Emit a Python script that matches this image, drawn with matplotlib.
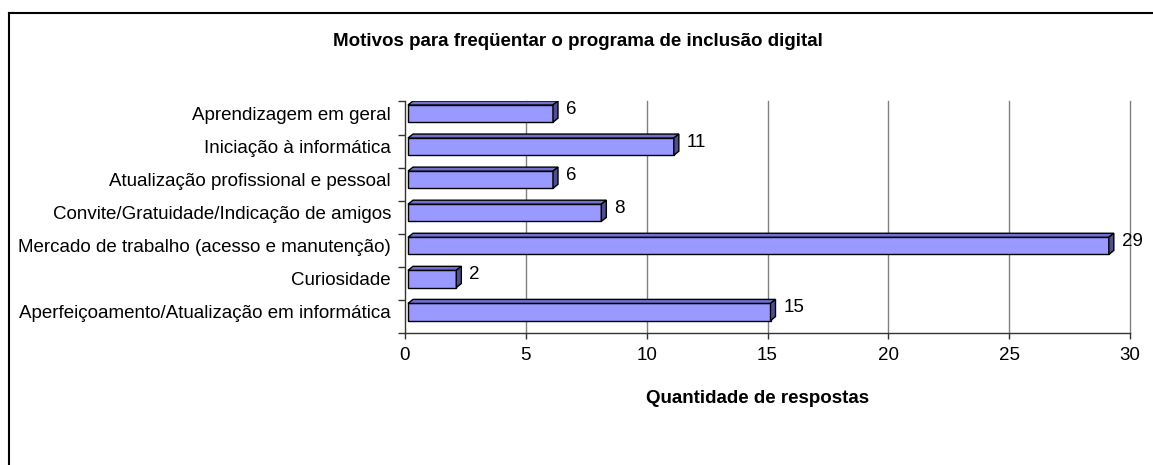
import numpy as np
import matplotlib.pyplot as plt
from matplotlib.patches import Polygon
from matplotlib.lines import Line2D

categories = [
    "Aprendizagem em geral",
    "Iniciação à informática",
    "Atualização profissional e pessoal",
    "Convite/Gratuidade/Indicação de amigos",
    "Mercado de trabalho (acesso e manutenção)",
    "Curiosidade",
    "Aperfeiçoamento/Atualização em informática",
]
counts = [6, 11, 6, 8, 29, 2, 15]
x_ticks = [0, 5, 10, 15, 20, 25, 30]

FRONT = "#9999FF"
TOP = "#7070D0"
SIDE = "#4F4F8F"
W, H, DPI = 1153, 465, 100

plt.rcParams["font.family"] = ["Liberation Sans", "DejaVu Sans"]

fig = plt.figure(figsize=(W / DPI, H / DPI), dpi=DPI)
ax = fig.add_axes([405 / W, 1 - 333 / H, 725 / W, 231.5 / H])

n = len(categories)
ypos = np.arange(n)
ax.set_xlim(0, 30)
ax.set_ylim(n - 0.5, -0.5)

# pixel -> data conversion (axes box is fixed)
ux = 30 / 725
uy = n / 231.5
shift_x = 3 * ux          # front face sits a bit right of the axis
dx, dy = 5 * ux, 4 * uy   # bar depth
yc = ypos - 0.135         # front face centre
bh = 0.52

bars = ax.barh(yc, counts, height=bh, left=shift_x, color=FRONT,
               edgecolor="black", linewidth=1.0, zorder=3)
for b in bars:
    x0, y0 = b.get_x(), b.get_y()
    x1, y1 = x0 + b.get_width(), y0 + b.get_height()
    # y axis inverted: y0 is the visual top edge
    top = Polygon([(x0, y0), (x1, y0), (x1 + dx, y0 - dy), (x0 + dx, y0 - dy)],
                  closed=True, facecolor=TOP, edgecolor="black", lw=1.0, zorder=3)
    side = Polygon([(x1, y0), (x1 + dx, y0 - dy), (x1 + dx, y1 - dy), (x1, y1)],
                   closed=True, facecolor=SIDE, edgecolor="black", lw=1.0, zorder=3)
    ax.add_patch(top)
    ax.add_patch(side)

for y, v in zip(yc, counts):
    ax.text(v + shift_x + dx + 8 * ux, y - 4.5 * uy, str(v), ha="left",
            va="center", fontsize=13.5, zorder=4)

ax.set_xticks(x_ticks)
ax.set_xticklabels([str(t) for t in x_ticks], fontsize=13.5)
ax.tick_params(axis="x", length=4, width=1, pad=6, color="#333333")

ax.set_yticks(yc)
ax.set_yticklabels(categories, fontsize=13.5)
ax.tick_params(axis="y", which="major", length=0, pad=10)
ax.set_yticks(np.arange(n + 1) - 0.5, minor=True)
ax.tick_params(axis="y", which="minor", length=5, width=1, color="#333333")

for t in x_ticks[1:]:
    ax.axvline(t, color="#808080", lw=1.0, zorder=1, clip_on=False)

for s in ["top", "right"]:
    ax.spines[s].set_visible(False)
for s in ["left", "bottom"]:
    ax.spines[s].set_color("#333333")
    ax.spines[s].set_linewidth(1.0)

fig.text(578 / W, 1 - 42 / H, "Motivos para freqüentar o programa de inclusão digital",
         ha="center", va="center", fontsize=13.5, fontweight="bold")
fig.text(758 / W, 1 - 398 / H, "Quantidade de respostas",
         ha="center", va="center", fontsize=13.5, fontweight="bold")

# chart frame (only left and top edges are visible)
fig.add_artist(Line2D([9 / W, 9 / W], [0, 1 - 13.5 / H], transform=fig.transFigure,
                      color="black", lw=1.5))
fig.add_artist(Line2D([9 / W, 1], [1 - 13.5 / H, 1 - 13.5 / H], transform=fig.transFigure,
                      color="black", lw=1.5))

fig.savefig("out.png", dpi=DPI)
